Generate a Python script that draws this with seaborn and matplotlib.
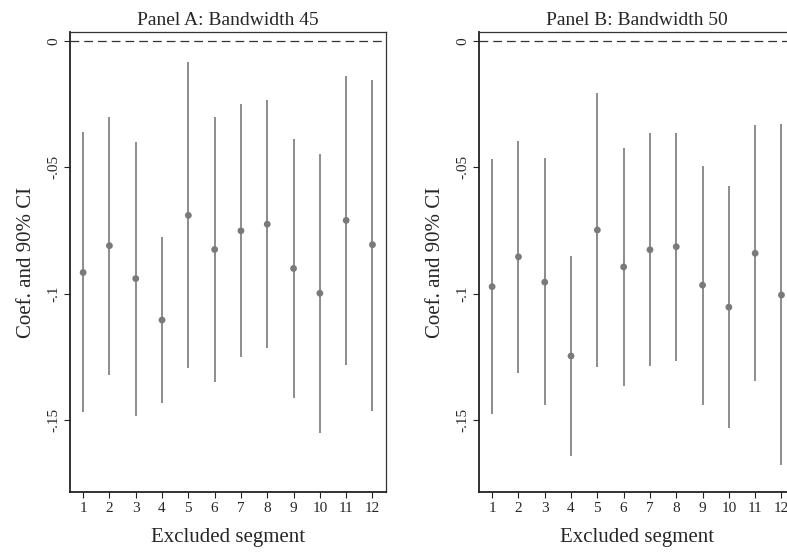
import numpy as np
import pandas as pd
import matplotlib
matplotlib.use("Agg")
import matplotlib.pyplot as plt
import seaborn as sns

# excluded segment and estimates
segments = list(range(1, 13))

coef_a = [-0.0916, -0.0810, -0.0940, -0.1104, -0.0690, -0.0825,
          -0.0751, -0.0725, -0.0900, -0.0998, -0.0710, -0.0806]
upper_a = [-0.0362, -0.0300, -0.0400, -0.0776, -0.0085, -0.0303,
           -0.0250, -0.0234, -0.0390, -0.0447, -0.0140, -0.0153]
lower_a = [-0.1469, -0.1320, -0.1483, -0.1431, -0.1295, -0.1348,
           -0.1251, -0.1213, -0.1411, -0.1549, -0.1283, -0.1462]

coef_b = [-0.0972, -0.0854, -0.0954, -0.1246, -0.0748, -0.0894,
          -0.0826, -0.0814, -0.0966, -0.1053, -0.0840, -0.1005]
upper_b = [-0.0469, -0.0395, -0.0465, -0.0852, -0.0205, -0.0424,
           -0.0366, -0.0366, -0.0494, -0.0574, -0.0333, -0.0330]
lower_b = [-0.1476, -0.1313, -0.1440, -0.1640, -0.1290, -0.1364,
           -0.1286, -0.1265, -0.1438, -0.1532, -0.1346, -0.1678]

titles = ["Panel A: Bandwidth 45", "Panel B: Bandwidth 50"]
ytick_vals = [0, -0.05, -0.1, -0.15]
ytick_labels = ["0", "-.05", "-.1", "-.15"]

sns.set_style("white")
plt.rcParams["font.family"] = ["Liberation Serif", "DejaVu Serif"]

fig = plt.figure(figsize=(7.87, 5.58), dpi=100)
# panel B runs past the right edge, as in the original export
ax_a = fig.add_axes([0.0889, 0.1177, 0.4011, 0.8255])
ax_b = fig.add_axes([0.6086, 0.1177, 0.4011, 0.8255])

panels = [(ax_a, coef_a, upper_a, lower_a), (ax_b, coef_b, upper_b, lower_b)]
for (ax, coef, upper, lower), title in zip(panels, titles):
    df = pd.DataFrame({"segment": segments, "coef": coef,
                       "upper": upper, "lower": lower})
    ax.vlines(df["segment"], df["lower"], df["upper"], color="#8c8c8c", lw=1.4, zorder=2)
    sns.scatterplot(data=df, x="segment", y="coef", ax=ax, color="#7a7a7a",
                    s=24, edgecolor="none", zorder=3, legend=False)
    ax.axhline(0, color="#333333", lw=0.9, ls=(0, (7, 4)), zorder=1)

    ax.set_xlim(0.5, 12.5)
    ax.set_ylim(-0.1785, 0.0036)
    ax.set_xticks(segments)
    ax.set_xticklabels([str(s) for s in segments], fontsize=11)
    ax.set_yticks(ytick_vals)
    ax.set_yticklabels(ytick_labels, fontsize=11, rotation=90, va="center")
    ax.tick_params(axis="both", which="major", length=4, width=0.8,
                   color="#222222", direction="out", left=True, bottom=True, pad=3)
    ax.set_title(title, fontsize=14, pad=5)
    ax.set_xlabel("Excluded segment", fontsize=15, labelpad=9)
    ax.set_ylabel("Coef. and 90% CI", fontsize=15, labelpad=8)
    for side in ["left", "bottom"]:
        ax.spines[side].set_color("#222222")
        ax.spines[side].set_linewidth(1.3)
    for side in ["top", "right"]:
        ax.spines[side].set_color("#333333")
        ax.spines[side].set_linewidth(0.9)

fig.savefig("out.png", dpi=100)
